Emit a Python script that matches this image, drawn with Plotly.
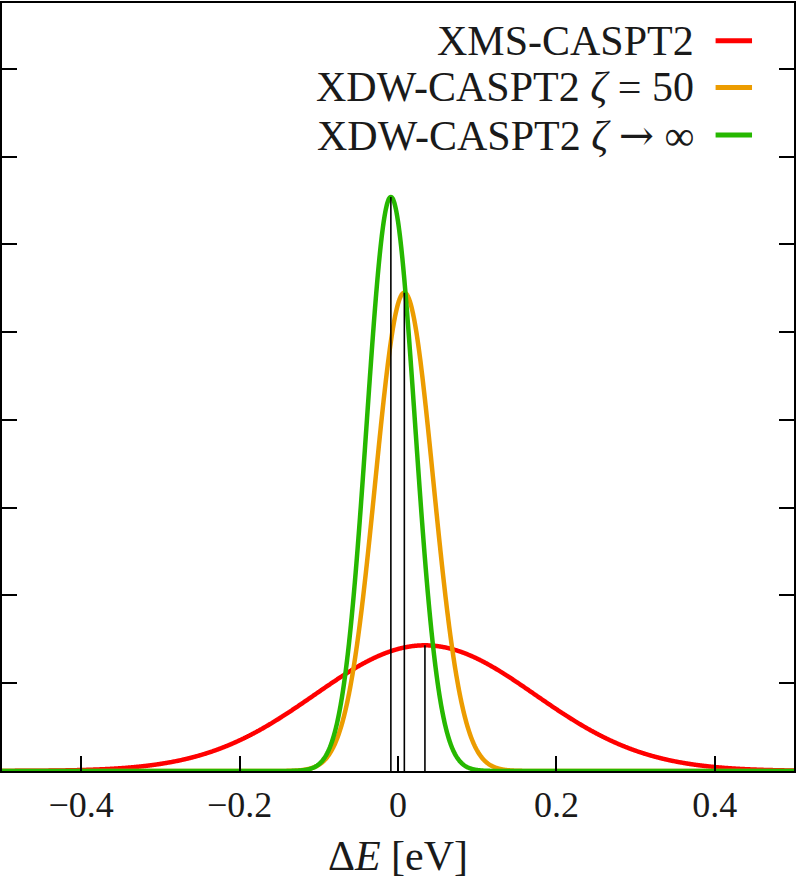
import numpy as np
import plotly.graph_objects as go

# Data: Gaussian distributions of energy errors
names = ["XMS-CASPT2",
         "XDW-CASPT2 <i>ζ</i> = 50",
         "XDW-CASPT2 <i>ζ</i> <span style='font-family:DejaVu Serif'>→</span> ∞"]
means = [0.034, 0.008, -0.009]       # eV
sigmas = [0.1393, 0.0366, 0.0305]    # eV
colors = ["#ff0000", "#ec9c00", "#26b800"]
x_ticks = [-0.4, -0.2, 0.0, 0.2, 0.4]
x_tick_text = ["−0.4", "−0.2", "0", "0.2", "0.4"]

FONT = "Liberation Serif"
x = np.linspace(-0.5, 0.5, 2001)

fig = go.Figure()
for name, mu, s, c in zip(names, means, sigmas, colors):
    y = np.exp(-0.5 * ((x - mu) / s) ** 2) / (s * np.sqrt(2 * np.pi))
    fig.add_trace(go.Scatter(x=x, y=y, mode="lines", name=name,
                             line=dict(color=c, width=4.5, simplify=False),
                             showlegend=False))
# vertical lines at the means up to the peak
for mu, s in zip(means, sigmas):
    peak = 1 / (s * np.sqrt(2 * np.pi))
    fig.add_trace(go.Scatter(x=[mu, mu], y=[0, peak], mode="lines",
                             line=dict(color="black", width=1.6), showlegend=False,
                             hoverinfo="skip"))

# manual legend: text on the left, line sample on the right
legend_rows_y = [0.951, 0.890, 0.828]
for name, c, ly in zip(names, colors, legend_rows_y):
    fig.add_annotation(xref="paper", yref="paper", x=0.876, y=ly, text=name,
                       showarrow=False, xanchor="right", yanchor="middle",
                       font=dict(family=FONT, size=42, color="#1a1a1a"))
    fig.add_shape(type="line", xref="paper", yref="paper",
                  x0=0.901, x1=0.947, y0=ly, y1=ly,
                  line=dict(color=c, width=5))

fig.update_layout(
    width=797, height=885,
    margin=dict(l=2, r=1, t=1, b=114),
    plot_bgcolor="white", paper_bgcolor="white",
    font=dict(family=FONT, size=36, color="#1a1a1a"),
)
fig.update_xaxes(range=[-0.5, 0.5], tickvals=x_ticks, ticktext=x_tick_text,
                 ticks="inside", ticklen=15, tickwidth=2, tickcolor="black",
                 ticklabelstandoff=1,
                 showline=True, linecolor="black", linewidth=2, mirror=True,
                 showgrid=False, zeroline=False,
                 title=dict(text="Δ<i>E</i> [eV]", font=dict(family=FONT, size=42), standoff=16))
fig.update_yaxes(range=[0, 17.5], dtick=2, tick0=0, showticklabels=False,
                 ticks="inside", ticklen=15, tickwidth=2, tickcolor="black",
                 showline=True, linecolor="black", linewidth=2, mirror="ticks",
                 showgrid=False, zeroline=False)

fig.write_html("out.html", config={"displayModeBar": False},
               post_script="document.body.style.margin='0';")
